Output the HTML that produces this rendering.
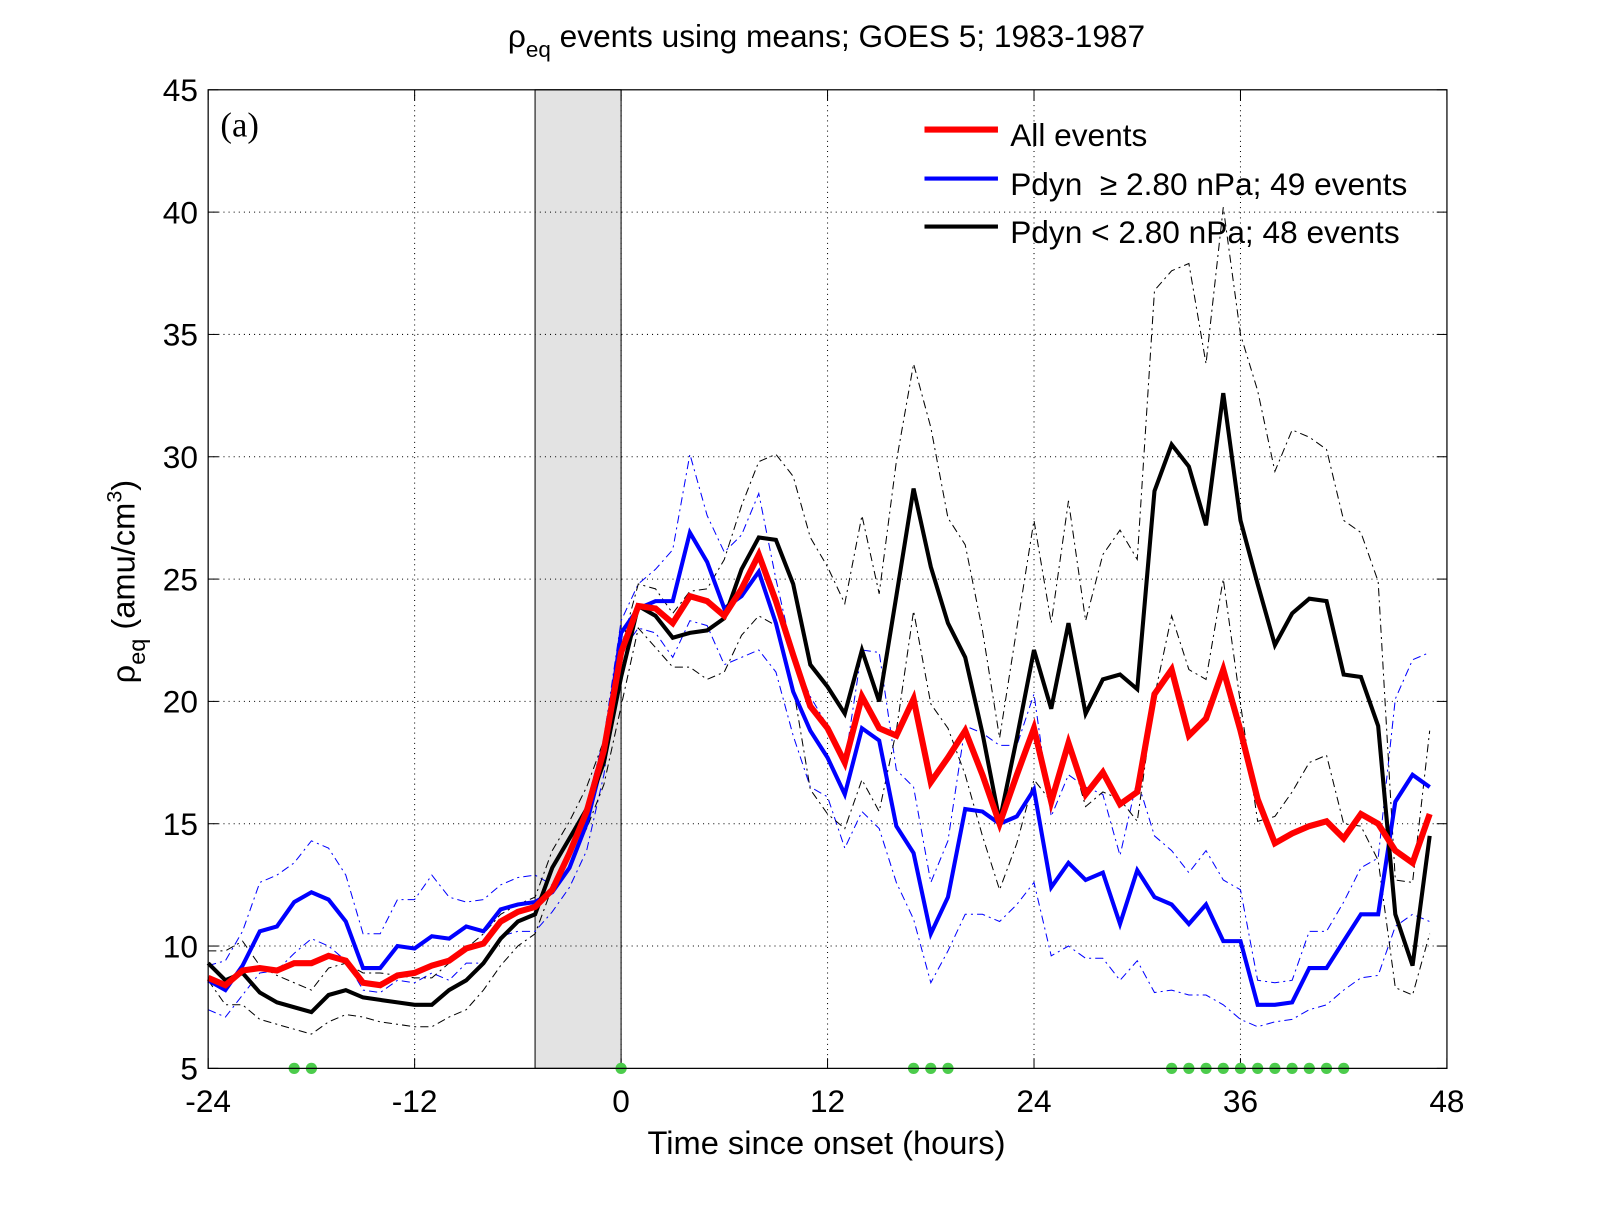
<!DOCTYPE html>
<html><head><meta charset="utf-8"><style>
body{margin:0;background:#fff;overflow:hidden;}
svg text{font-family:"Liberation Sans",sans-serif;}
svg text.serif{font-family:"Liberation Serif",serif;}
</style></head><body>
<svg id="chart" width="1600" height="1200" viewBox="0 0 1568 1176" xmlns="http://www.w3.org/2000/svg">
<rect width="1568" height="1176" fill="#fff"/>
<g id="plot"></g>
</svg>
<script>
const hours = Array.from({length:72},(_,i)=>i-24);
const allEvents = [8.7,8.4,9.0,9.1,9.0,9.3,9.3,9.6,9.4,8.5,8.4,8.8,8.9,9.2,9.4,9.9,10.1,11.0,11.4,11.6,12.3,13.8,15.5,18.0,22.0,23.9,23.8,23.2,24.3,24.1,23.5,24.6,26.0,24.1,21.9,19.8,18.9,17.5,20.2,18.9,18.6,20.1,16.7,17.7,18.8,17.0,15.0,17.0,18.9,15.9,18.3,16.2,17.1,15.8,16.3,20.3,21.3,18.6,19.3,21.3,18.8,16.0,14.2,14.6,14.9,15.1,14.4,15.4,15.0,13.9,13.4,15.4];
const highP = [8.6,8.2,9.2,10.6,10.8,11.8,12.2,11.9,11.0,9.1,9.1,10.0,9.9,10.4,10.3,10.8,10.6,11.5,11.7,11.8,12.2,13.2,15.0,17.8,22.8,23.8,24.1,24.1,26.9,25.7,23.8,24.3,25.3,23.2,20.4,18.8,17.7,16.2,18.9,18.4,14.9,13.8,10.5,12.0,15.6,15.5,15.0,15.3,16.4,12.4,13.4,12.7,13.0,10.9,13.1,12.0,11.7,10.9,11.7,10.2,10.2,7.6,7.6,7.7,9.1,9.1,10.2,11.3,11.3,15.9,17.0,16.5];
const lowP = [9.3,8.6,8.9,8.1,7.7,7.5,7.3,8.0,8.2,7.9,7.8,7.7,7.6,7.6,8.2,8.6,9.3,10.3,11.0,11.3,13.2,14.4,15.6,17.5,21.0,23.9,23.5,22.6,22.8,22.9,23.4,25.4,26.7,26.6,24.8,21.5,20.6,19.5,22.1,20.0,24.3,28.7,25.5,23.2,21.8,18.7,15.1,18.5,22.1,19.7,23.2,19.5,20.9,21.1,20.5,28.6,30.5,29.6,27.2,32.6,27.4,24.8,22.3,23.6,24.2,24.1,21.1,21.0,19.0,11.3,9.2,14.5];
const highUpper = [9.2,9.4,10.6,12.6,12.9,13.4,14.3,14.0,12.9,10.5,10.5,11.9,11.9,12.9,12.0,11.8,11.9,12.5,12.8,12.9,12.5,14.0,15.8,18.5,23.3,24.8,25.4,26.2,30.1,27.6,26.1,26.8,28.5,25.0,21.9,20.2,19.0,17.5,22.1,22.0,17.2,16.5,12.6,14.3,19.0,18.7,18.2,18.2,20.3,15.3,17.0,16.5,16.2,13.7,16.8,14.5,13.9,13.0,13.9,12.7,12.3,8.6,8.5,8.6,10.6,10.6,11.8,13.2,13.6,20.1,21.7,22.0];
const highLower = [7.4,7.1,8.0,8.9,9.0,9.7,10.3,10.0,9.4,8.2,8.1,8.6,8.5,8.9,8.6,9.3,9.3,10.4,10.6,10.6,11.4,12.4,13.9,17.0,22.0,23.0,22.8,21.8,23.3,23.1,21.5,21.8,22.1,21.2,18.6,16.5,16.1,14.0,15.5,14.8,12.6,11.1,8.5,9.8,11.3,11.3,11.0,11.7,12.6,9.6,10.0,9.5,9.5,8.6,9.4,8.1,8.2,8.0,8.0,7.6,7.0,6.7,6.9,7.0,7.4,7.6,8.2,8.7,8.8,10.8,11.3,11.0];
const lowUpper = [9.8,9.8,10.2,9.2,8.8,8.5,8.2,9.1,9.3,8.9,8.9,8.8,8.7,8.7,9.3,9.9,10.5,11.3,11.7,12.0,13.9,15.1,16.5,18.4,22.2,24.8,24.6,23.6,24.5,24.6,25.8,28.0,29.8,30.1,29.2,26.7,25.5,24.0,27.6,24.4,29.8,33.8,31.2,27.5,26.4,22.9,18.5,23.0,27.4,23.2,28.2,23.3,26.0,27.0,25.8,36.8,37.6,37.9,33.8,40.2,35.0,32.7,29.4,31.1,30.8,30.3,27.4,26.9,24.9,12.7,12.6,18.8];
const lowLower = [8.6,7.6,7.6,7.0,6.8,6.6,6.4,6.9,7.2,7.1,6.9,6.8,6.7,6.7,7.1,7.4,8.2,9.2,10.0,10.5,12.4,13.8,14.8,16.6,19.8,23.0,22.2,21.4,21.4,20.9,21.2,22.7,23.5,23.1,20.6,16.4,15.4,14.8,16.8,15.5,18.8,23.7,19.9,18.9,17.0,14.5,12.3,14.2,16.8,15.9,18.2,15.7,16.3,16.0,15.1,20.2,23.5,21.3,20.9,25.0,19.9,15.1,15.3,16.3,17.5,17.8,15.0,14.9,13.5,8.3,8.0,10.5];
const sigHours = [-19,-18,0,17,18,19,32,33,34,35,36,37,38,39,40,41,42];
const xTicks = [-24,-12,0,12,24,36,48];
const yTicks = [5,10,15,20,25,30,35,40,45];
const shadeRange = [-5,0];

const L=204,R=1418,T=88,B=1047;
const X=h=>L+(h+24)/72*(R-L);
const Y=v=>B-(v-5)/40*(B-T);
const NS="http://www.w3.org/2000/svg";
const g=document.getElementById('plot');
function mk(tag,attrs,parent){const e=document.createElementNS(NS,tag);for(const k in attrs)e.setAttribute(k,attrs[k]);(parent||g).appendChild(e);return e;}

let sh=mk('rect',{x:X(shadeRange[0]),y:T,width:X(shadeRange[1])-X(shadeRange[0]),height:B-T,fill:'#e3e3e3',stroke:'#000','stroke-width':1});



xTicks.forEach(t=>{
  if(t>-24&&t<48){let l=mk('line',{x1:X(t),x2:X(t),y1:T,y2:B,stroke:'#000','stroke-width':1,'stroke-dasharray':'1,4'});
  
  }
  mk('line',{x1:X(t),x2:X(t),y1:B,y2:B-10,stroke:'#000'});
  mk('line',{x1:X(t),x2:X(t),y1:T,y2:T+10,stroke:'#000'});
  let tx=mk('text',{x:X(t),y:B+43,'font-size':31,'text-anchor':'middle'});tx.textContent=t;
  
  
});
yTicks.forEach(t=>{
  if(t>5&&t<45){let l=mk('line',{x1:L,x2:R,y1:Y(t),y2:Y(t),stroke:'#000','stroke-width':1,'stroke-dasharray':'1,4'});
  
  }
  mk('line',{x1:L,x2:L+10,y1:Y(t),y2:Y(t),stroke:'#000'});
  mk('line',{x1:R,x2:R-10,y1:Y(t),y2:Y(t),stroke:'#000'});
  let tx=mk('text',{x:L-10,y:Y(t)+11,'font-size':31,'text-anchor':'end'});tx.textContent=t;
  
  
});

function line(vals,color,w,dash,name){
  const d=vals.map((v,i)=>(i?'L':'M')+X(hours[i]).toFixed(1)+','+Y(v).toFixed(1)).join('');
  const p=mk('path',{d:d,fill:'none',stroke:color,'stroke-width':w,'stroke-dasharray':dash||'none','stroke-linejoin':'miter'});
  
  
}
line(highUpper,'#0000ff',1,'8,4,2,4','high-pdyn-upper-bound');
line(highLower,'#0000ff',1,'8,4,2,4','high-pdyn-lower-bound');
line(lowUpper,'#000',1,'8,4,2,4','low-pdyn-upper-bound');
line(lowLower,'#000',1,'8,4,2,4','low-pdyn-lower-bound');
line(highP,'#0000ff',4,null,'high-pdyn-line');
line(lowP,'#000',4,null,'low-pdyn-line');
line(allEvents,'#ff0000',6,null,'all-events-line');

sigHours.forEach(h=>{
  const c=mk('circle',{cx:X(h),cy:B,r:5.5,fill:'#4ccc4c'});
  
  
});

const fr=mk('rect',{x:L,y:T,width:R-L,height:B-T,fill:'none',stroke:'#000','stroke-width':1.2});


</script>
<script>
(function(){
const svg=document.getElementById('chart');
const NS="http://www.w3.org/2000/svg";
function t(x,y,size,txt,name,extra){const e=document.createElementNS(NS,'text');e.setAttribute('x',x);e.setAttribute('y',y);e.setAttribute('font-size',size);if(extra)for(const k in extra)e.setAttribute(k,extra[k]);e.innerHTML=txt;svg.appendChild(e);


return e;}
t(810,46,31,'ρ<tspan dy="10" font-size="22">eq</tspan><tspan dy="-10"> events using means; GOES 5; 1983-1987</tspan>','chart-title',{'text-anchor':'middle'});
t(810,1131,32,'Time since onset (hours)','x-axis-title',{'text-anchor':'middle'});
t(0,0,32,'ρ<tspan dy="10" font-size="23">eq</tspan><tspan dy="-10"> (amu/cm</tspan><tspan dy="-13" font-size="21">3</tspan><tspan dy="13">)</tspan>','y-axis-title',{'text-anchor':'middle',transform:'translate(132,570) rotate(-90)'});
t(216,134,34,'(a)','panel-label',{'class':'serif'});
const items=[['#ff0000',6,'All events',132],['#0000ff',4,'Pdyn &#160;≥ 2.80 nPa; 49 events',180],['#000',4,'Pdyn &lt; 2.80 nPa; 48 events',227]];
items.forEach((it,i)=>{
  const l=document.createElementNS(NS,'line');
  l.setAttribute('x1',906);l.setAttribute('x2',978);l.setAttribute('y1',it[3]-5);l.setAttribute('y2',it[3]-5);
  l.setAttribute('stroke',it[0]);l.setAttribute('stroke-width',it[1]);svg.appendChild(l);
  
  
  t(990,it[3]+11,31,it[2],'legend-entry');
});
})();
</script>
</body></html>
